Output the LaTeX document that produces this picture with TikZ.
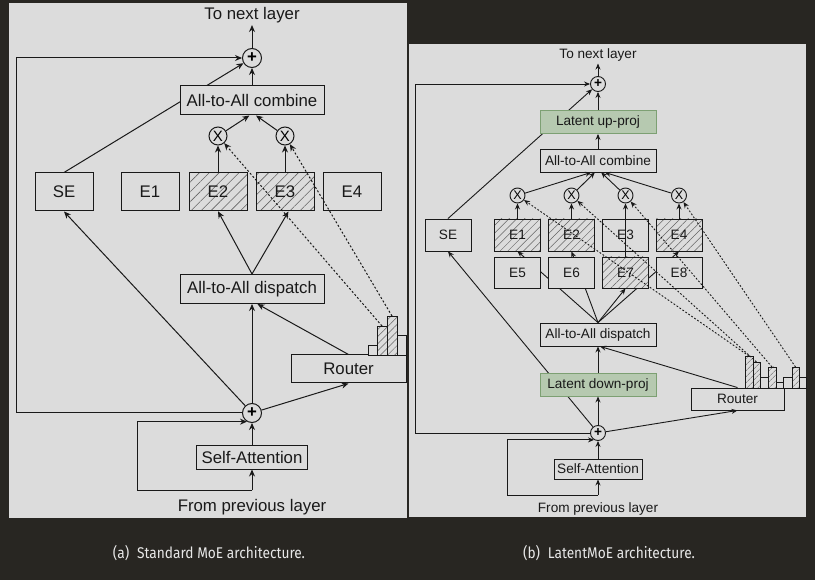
\documentclass[tikz,border=0pt]{standalone}
\usepackage{fontspec}
\setmainfont{Liberation Sans}
\newfontfamily\capfont{Fira Sans}[FakeStretch=0.885]
\usetikzlibrary{arrows.meta, patterns.meta}

\definecolor{darkbg}{RGB}{40,38,34}
\definecolor{panelc}{RGB}{220,220,220}
\definecolor{linec}{RGB}{25,25,25}
\definecolor{hatchc}{RGB}{100,100,100}
\definecolor{greenfill}{RGB}{182,201,176}
\definecolor{greenline}{RGB}{125,160,115}
\definecolor{captc}{RGB}{232,232,232}

\newcommand\fsL{\fontsize{16.8}{19}\selectfont}
\newcommand\fsR{\fontsize{13.6}{16}\selectfont}

\pgfdeclarelayer{back}
\pgfdeclarelayer{under}
\pgfsetlayers{back,under,main}

\begin{document}
\begin{tikzpicture}[x=1pt, y=-1pt,
    blk/.style    = {draw=linec, fill=panelc, line width=1pt, inner sep=0pt},
    txtL/.style   = {font=\fsL, text=linec, inner sep=2pt},
    txtR/.style   = {font=\fsR, text=linec, inner sep=2pt},
    wideL/.style  = {blk, txtL, minimum width=144pt, minimum height=29pt},
    expL/.style   = {blk, txtL, minimum width=58pt, minimum height=38pt},
    hatchL/.style = {expL, preaction={fill=panelc},
                     pattern={Lines[angle=45,distance=7pt,line width=0.6pt]}, pattern color=hatchc},
    opL/.style    = {circle, blk, minimum size=19pt, font=\fsL\bfseries},
    mulL/.style   = {circle, blk, minimum size=18pt, font=\fontsize{15}{15}\selectfont},
    wideR/.style  = {blk, txtR, line width=0.9pt, minimum width=116pt, minimum height=23pt},
    greenR/.style = {wideR, fill=greenfill, draw=greenline},
    expR/.style   = {blk, txtR, line width=0.9pt, minimum width=46pt, minimum height=32pt},
    hatchR/.style = {expR, preaction={fill=panelc},
                     pattern={Lines[angle=45,distance=5.5pt,line width=0.5pt]}, pattern color=hatchc},
    opR/.style    = {circle, blk, line width=0.9pt, minimum size=15pt, font=\fsR\bfseries},
    mulR/.style   = {circle, blk, line width=0.9pt, minimum size=15pt, font=\fontsize{12.5}{12.5}\selectfont},
    barp/.style   = {draw=linec, fill=panelc, line width=0.8pt},
    barhL/.style  = {barp, preaction={fill=panelc},
                     pattern={Lines[angle=45,distance=5pt,line width=0.5pt]}, pattern color=hatchc},
    barhR/.style  = {barp, preaction={fill=panelc},
                     pattern={Lines[angle=45,distance=4pt,line width=0.5pt]}, pattern color=hatchc},
    arrL/.style   = {-{Stealth[length=7pt,width=6pt]}, draw=linec, line width=1pt},
    dotL/.style   = {arrL, dash pattern=on 2pt off 2pt},
    arrR/.style   = {-{Stealth[length=6pt,width=5pt]}, draw=linec, line width=0.9pt},
    dotR/.style   = {arrR, dash pattern=on 1.8pt off 1.8pt},
    capt/.style   = {font=\capfont\fontsize{15.5}{17}\selectfont, text=captc},
]

%% ---- panels ----
\begin{pgfonlayer}{back}
    \fill[darkbg] (0,0) rectangle (815,580);
    \fill[panelc] (9,3) rectangle (407,518);
    \fill[panelc] (409,44) rectangle (806,517);
\end{pgfonlayer}

%% ---- (a) standard MoE ----

\node[txtL] (toL) at (252,15) {To next layer};
\node[opL] (plusTL) at (252,58) {+};
\node[wideL] (combL) at (252,100.5) {All-to-All combine};
\node[mulL] (xL1) at (218,136) {X};
\node[mulL] (xL2) at (285,136) {X};

\node[expL]   (seL) at (64,192)  {SE};
\node[expL]   (e1L) at (150,192) {E1};
\node[hatchL] (e2L) at (218,192) {E2};
\node[hatchL] (e3L) at (285,192) {E3};
\node[expL]   (e4L) at (352,192) {E4};

\node[wideL] (dispL) at (252,289) {All-to-All dispatch};
\node[blk, txtL, minimum width=115pt, minimum height=28pt] (routerL) at (348.5,369) {Router};
\node[opL] (plusBL) at (252,413) {+};
\node[blk, txtL, minimum width=111pt, minimum height=24pt] (saL) at (252,457) {Self-Attention};
\node[txtL] (fromL) at (252,507) {From previous layer};

\coordinate (cornerL) at (16,413);
\coordinate (srcL) at (252,490);
\coordinate (resL) at (137,490);

% router scores
\foreach \xa/\xb/\yt/\st in {368/377/345/barp, 377/387/326/barhL, 387/397/316/barhL, 397/406/335/barp}
    \draw[\st] (\xa,355) rectangle (\xb,\yt);
\coordinate (tL1) at (382,326);
\coordinate (tL2) at (392,316);

\begin{pgfonlayer}{under}
    \draw[arrL] (seL.north) -- (plusTL);
\end{pgfonlayer}

\draw[arrL] (plusTL) -- (toL);
\draw[arrL] (combL) -- (plusTL);
\draw[arrL] (xL1) -- (combL.-100);
\draw[arrL] (xL2) -- (combL.-75);
\draw[arrL] (e2L) -- (xL1);
\draw[arrL] (e3L) -- (xL2);
\draw[arrL] (dispL.north) -- (e2L.south);
\draw[arrL] (dispL.north) -- (e3L.-80);
\draw[arrL] (plusBL) -- (seL.south);
\draw[arrL] (plusBL) -- (dispL.south);
\draw[arrL] (plusBL) -- (routerL.south);
\draw[arrL] (routerL.north) -- (dispL.-70);
\draw[arrL] (plusBL.west) -- (cornerL) |- (plusTL.west);
\draw[arrL] (srcL) -- (saL);
\draw[arrL] (srcL) -- (resL) |- (plusBL.240);
\draw[arrL] (saL) -- (plusBL);
\draw[dotL] (tL1) -- (xL1);
\draw[dotL] (tL2) -- (xL2);

%% ---- (b) LatentMoE ----

\node[txtR] (toR) at (598,55) {To next layer};
\node[opR] (plusTR) at (598,84) {+};
\node[greenR] (upR) at (598,122) {Latent up-proj};
\node[wideR] (combR) at (598,160.5) {All-to-All combine};
\node[mulR] (xR1) at (517.5,195.5) {X};
\node[mulR] (xR2) at (571.5,195.5) {X};
\node[mulR] (xR3) at (625.5,195.5) {X};
\node[mulR] (xR4) at (679,195.5) {X};

\node[expR]   (seR) at (448,235)   {SE};
\node[hatchR] (e1R) at (517.5,235) {E1};
\node[hatchR] (e2R) at (571.5,235) {E2};
\node[expR]   (e3R) at (625.5,235) {E3};
\node[hatchR] (e4R) at (679,235)   {E4};
\node[expR, minimum height=31pt]   (e5R) at (517.5,272.5) {E5};
\node[expR, minimum height=31pt]   (e6R) at (571.5,272.5) {E6};
\node[hatchR, minimum height=31pt] (e7R) at (625.5,272.5) {E7};
\node[expR, minimum height=31pt]   (e8R) at (679,272.5)   {E8};

\node[wideR] (dispR) at (598,334.5) {All-to-All dispatch};
\node[greenR] (downR) at (598,384.5) {Latent down-proj};
\node[blk, txtR, line width=0.9pt, minimum width=93pt, minimum height=22pt] (routerR) at (737.5,399) {Router};
\node[opR] (plusBR) at (598,433) {+};
\node[blk, txtR, line width=0.9pt, minimum width=88pt, minimum height=20pt] (saR) at (598,469) {Self-Attention};
\node[txtR] (fromR) at (598,509) {From previous layer};

\coordinate (cornerR) at (415,433);
\coordinate (srcR) at (598,495);
\coordinate (resR) at (507,495);

% router scores
\foreach \xa/\xb/\yt/\st in {745/753/356/barhR, 753/760/362/barhR, 760/768/377/barp, 768/776/367/barhR,
                             776/783/382/barp, 783/792/377/barp, 792/799/367/barhR, 799/806/377/barp}
    \draw[\st] (\xa,388) rectangle (\xb,\yt);
\coordinate (tR1) at (749,356);
\coordinate (tR2) at (756.5,362);
\coordinate (tR4) at (772,367);
\coordinate (tR7) at (795.5,367);

\begin{pgfonlayer}{under}
    \draw[arrR] (seR.north) -- (plusTR);
    \draw[arrR] (plusBR) -- (seR.south);
    \draw[arrR] (dispR.north) -- (e1R.south);
    \draw[arrR] (dispR.north) -- (e2R.south);
    \draw[arrR] (dispR.north) -- (e4R.south);
    \draw[arrR] (dispR.north) -- (e7R.south);
\end{pgfonlayer}

\draw[arrR] (plusTR) -- (toR);
\draw[arrR] (upR) -- (plusTR);
\draw[arrR] (combR) -- (upR);
\draw[arrR] (xR1) -- (combR.-120);
\draw[arrR] (xR2) -- (combR.-105);
\draw[arrR] (xR3) -- (combR.-75);
\draw[arrR] (xR4) -- (combR.-60);
\draw[arrR] (e1R) -- (xR1);
\draw[arrR] (e2R) -- (xR2);
\draw[arrR] (e7R.north) -- (xR3);
\draw[arrR] (e4R) -- (xR4);
\draw[arrR] (downR) -- (dispR);
\draw[arrR] (plusBR) -- (downR);
\draw[arrR] (plusBR) -- (routerR.south);
\draw[arrR] (routerR.north) -- (dispR.-80);
\draw[arrR] (plusBR.west) -- (cornerR) |- (plusTR.west);
\draw[arrR] (srcR) -- (saR);
\draw[arrR] (srcR) -- (resR) |- (plusBR.240);
\draw[arrR] (saR) -- (plusBR);
\draw[dotR] (tR1) -- (xR1);
\draw[dotR] (tR2) -- (xR2);
\draw[dotR] (tR4) -- (xR3);
\draw[dotR] (tR7) -- (xR4);

%% ---- captions ----
\node[capt] (capA) at (209,553) {(a)\enspace Standard MoE architecture.};
\node[capt] (capB) at (609,553) {(b)\enspace LatentMoE architecture.};

\end{tikzpicture}
\end{document}
